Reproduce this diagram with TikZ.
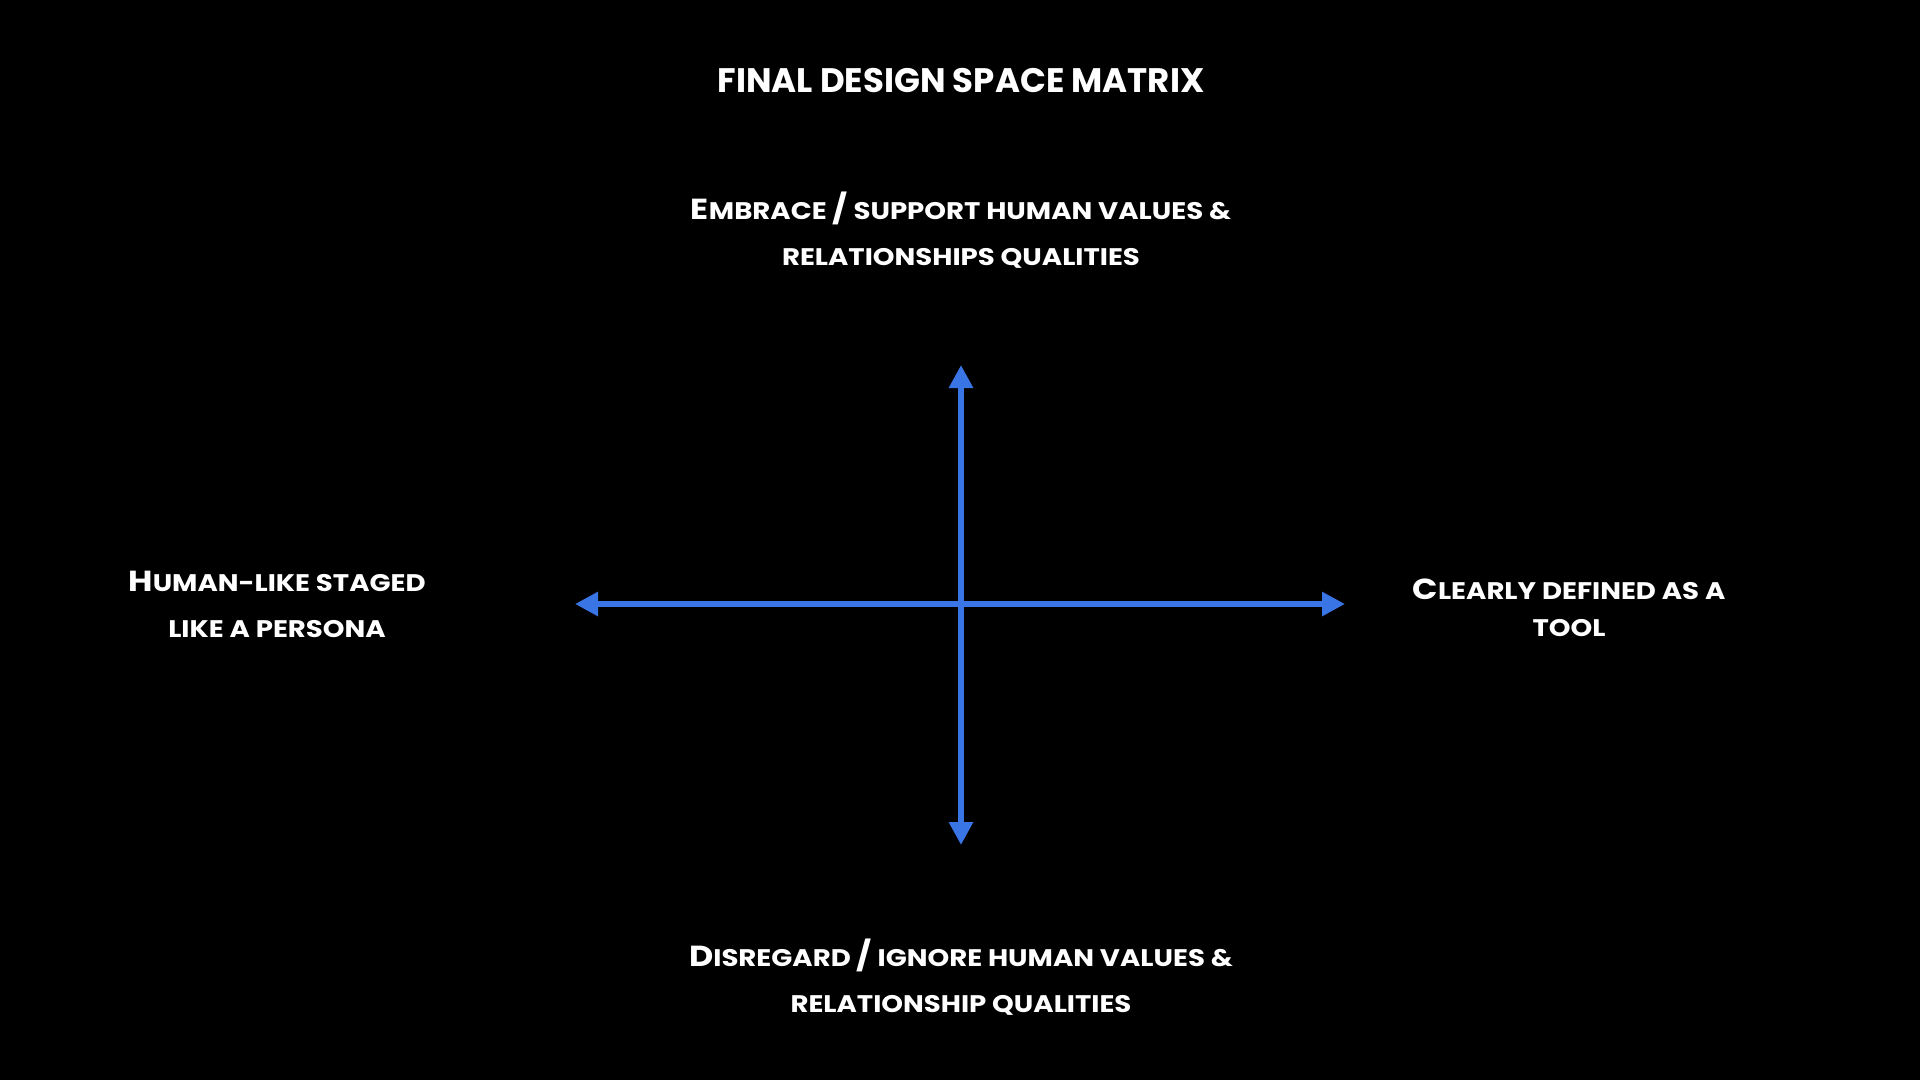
\documentclass[tikz,border=0pt]{standalone}
\usepackage{fontspec}
\setmainfont{Poppins}
\newfontfamily\lblfont{Poppins}[FakeStretch=1.15]
\usetikzlibrary{arrows.meta}
\definecolor{axisblue}{RGB}{58,117,230}
\newcommand{\Bc}[1]{{\fontsize{29}{29}\selectfont #1}}
\tikzset{
  lbl/.style={text=white, font=\lblfont\bfseries\fontsize{24}{46}\selectfont, align=center, anchor=base, inner sep=0pt},
  ttl/.style={text=white, font=\bfseries\fontsize{34}{40}\selectfont, anchor=base, inner sep=0pt},
  axis/.style={draw=axisblue, line width=6pt, {Triangle[length=23pt,width=23pt]}-{Triangle[length=23pt,width=23pt]}}
}
\begin{document}
\begin{tikzpicture}[x=1pt,y=-1pt]
\fill[black] (0,0) rectangle (1920,1080);
\useasboundingbox (0,0) rectangle (1920,1080);
\node[ttl] (title) at (961,92) {FINAL DESIGN SPACE MATRIX};
\node[lbl] (toplbl) at (961,265) {\Bc{E}MBRACE \Bc{/} SUPPORT HUMAN VALUES \&\\RELATIONSHIPS QUALITIES};
\node[lbl] (botlbl) at (961,1012) {\Bc{D}ISREGARD \Bc{/} IGNORE HUMAN VALUES \&\\RELATIONSHIP QUALITIES};
\node[lbl] (leftlbl) at (277,637) {\Bc{H}UMAN-LIKE STAGED\\LIKE A PERSONA};
\node[lbl, font=\lblfont\bfseries\fontsize{24}{37}\selectfont] (rightlbl) at (1569,636) {\Bc{C}LEARLY DEFINED AS A\\TOOL};
\coordinate (ntip) at (961,365);
\coordinate (stip) at (961,845);
\coordinate (wtip) at (575,604);
\coordinate (etip) at (1345,604);
\draw[axis] (stip) -- (ntip);
\draw[axis] (wtip) -- (etip);
\end{tikzpicture}
\end{document}
